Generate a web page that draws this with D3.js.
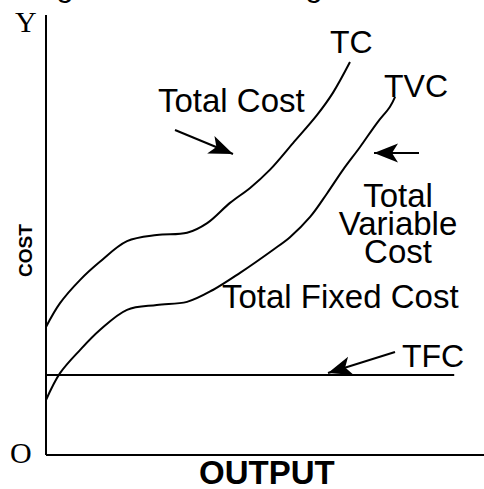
<!DOCTYPE html>
<html>
<head>
<meta charset="utf-8">
<script src="https://cdn.jsdelivr.net/npm/d3@7"></script>
<style>
  body { margin: 0; background: #fff; }
  svg { display: block; }
  .lbl { font-family: "Liberation Sans", Arial, Helvetica, sans-serif; font-size: 32px; fill: #000; }
  .lbl.wide { font-size: 33px; }
  .serif { font-family: "Liberation Serif", "Times New Roman", serif; font-size: 30px; fill: #000; }
  .bold { font-family: "Liberation Sans", Arial, Helvetica, sans-serif; font-weight: bold; fill: #000; }
</style>
</head>
<body>
<div id="chart"></div>
<script>
// CONSTANTS
const width = 484,
  height = 489,
  margin = { top: 15, bottom: 34, left: 46, right: 0 };

// DATA (output / cost in arbitrary units 0-100)
const tcOutput  = [0, 3.2, 7.8, 12.3, 18.5, 25.3, 32.2, 36.8, 42, 46.6, 51.1, 56.4, 61.9, 65.5, 69.4];
const tcCost    = [29.1, 34.5, 39.8, 43.9, 48.6, 50, 50.5, 52.7, 57.3, 60.7, 64.8, 70.9, 77.3, 82.3, 89.3];
const tvcOutput = [0, 3.2, 7.8, 12.3, 18.5, 25.3, 32.2, 38.1, 44.3, 51.8, 55.7, 60.3, 64.2, 67.8, 71.7, 75.6, 78.5, 79.7];
const tvcCost   = [12.5, 18.6, 23.9, 28.4, 33, 34.1, 34.8, 37.5, 41.4, 46.6, 49.5, 54.1, 59.5, 64.8, 70, 75.5, 79.1, 81.4];
const tfcCost = 18.2;
const tfcOutputEnd = 93.2;

// SCALES
const xScale = d3.scaleLinear()
  .domain([0, 100])
  .range([margin.left, width - margin.right]);

const yScale = d3.scaleLinear()
  .domain([0, 100])
  .range([height - margin.bottom, margin.top]);

const svg = d3.select("#chart")
  .append("svg")
  .attr("width", width)
  .attr("height", height);

// arrow head
svg.append("defs")
  .append("marker")
  .attr("id", "head")
  .attr("markerUnits", "userSpaceOnUse")
  .attr("viewBox", "-25 -11 26 22")
  .attr("refX", 0)
  .attr("refY", 0)
  .attr("markerWidth", 26)
  .attr("markerHeight", 22)
  .attr("orient", "auto")
  .append("path")
  .attr("d", "M0,0L-24,-9.5L-18,0L-24,9.5Z")
  .attr("fill", "#000");

// AXES (plain lines, no ticks)
svg.append("line")
  .attr("x1", xScale(0)).attr("x2", xScale(0))
  .attr("y1", yScale(100)).attr("y2", yScale(0))
  .attr("stroke", "#000").attr("stroke-width", 2);

svg.append("line")
  .attr("x1", xScale(0)).attr("x2", xScale(100))
  .attr("y1", yScale(0)).attr("y2", yScale(0))
  .attr("stroke", "#000").attr("stroke-width", 2);

// CURVES
const line = d3.line()
  .x(d => xScale(d[0]))
  .y(d => yScale(d[1]))
  .curve(d3.curveCatmullRom.alpha(0.5));

const series = [
  d3.zip(tcOutput, tcCost),
  d3.zip(tvcOutput, tvcCost)
];

svg.selectAll(".curve")
  .data(series)
  .join("path")
  .attr("class", "curve")
  .attr("d", line)
  .attr("fill", "none")
  .attr("stroke", "#000")
  .attr("stroke-width", 2);

// TFC horizontal line
svg.append("line")
  .attr("x1", xScale(0)).attr("x2", xScale(tfcOutputEnd))
  .attr("y1", yScale(tfcCost)).attr("y2", yScale(tfcCost))
  .attr("stroke", "#000").attr("stroke-width", 2);

// ARROWS
const arrows = [
  [[175, 130], [233, 154]],
  [[419, 153], [374, 153]],
  [[395, 352], [328, 373]]
];
svg.selectAll(".arrow")
  .data(arrows)
  .join("line")
  .attr("class", "arrow")
  .attr("x1", d => d[0][0]).attr("y1", d => d[0][1])
  .attr("x2", d => d[1][0]).attr("y2", d => d[1][1])
  .attr("stroke", "#000")
  .attr("stroke-width", 2)
  .attr("marker-end", "url(#head)");

// LABELS
svg.append("text").attr("class", "serif").attr("x", 15).attr("y", 32).text("Y");
svg.append("text").attr("class", "serif").attr("x", 10).attr("y", 463).text("O");

svg.append("text")
  .attr("class", "bold")
  .attr("font-size", 19)
  .attr("transform", "translate(32,277) rotate(-90)")
  .text("COST");

svg.append("text")
  .attr("class", "bold")
  .attr("font-size", 33)
  .attr("x", 199).attr("y", 484)
  .text("OUTPUT");

svg.append("text").attr("class", "lbl").attr("x", 330).attr("y", 53).text("TC");
svg.append("text").attr("class", "lbl").attr("x", 384).attr("y", 97).text("TVC");
svg.append("text").attr("class", "lbl wide").attr("x", 158).attr("y", 112).text("Total Cost");
svg.append("text").attr("class", "lbl wide").attr("x", 222).attr("y", 308).text("Total Fixed Cost");
svg.append("text").attr("class", "lbl").attr("x", 402).attr("y", 367).text("TFC");

svg.append("text")
  .attr("class", "lbl wide")
  .attr("text-anchor", "middle")
  .selectAll("tspan")
  .data(["Total", "Variable", "Cost"])
  .join("tspan")
  .attr("x", 398)
  .attr("y", (d, i) => 207 + i * 28)
  .text(d => d);

// cut-off title descenders at the very top
svg.selectAll(".cut")
  .data([56, 305])
  .join("text")
  .attr("class", "lbl cut")
  .attr("x", d => d)
  .attr("y", -4)
  .text("g");
</script>
</body>
</html>
